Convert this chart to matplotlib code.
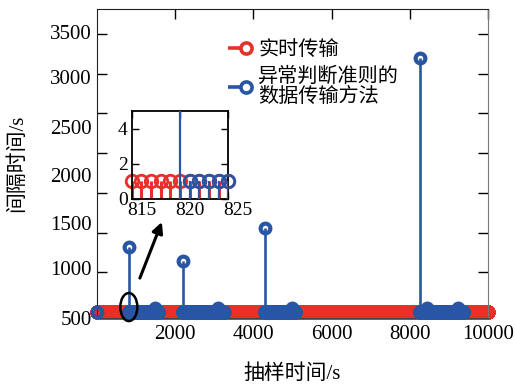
import numpy as np
import matplotlib
matplotlib.use('Agg')
import matplotlib.pyplot as plt
import matplotlib.transforms as mtransforms
from matplotlib.lines import Line2D
from matplotlib.patches import Ellipse
from matplotlib.legend_handler import HandlerBase

plt.rcParams['font.family'] = ['Liberation Serif', 'Noto Sans CJK SC']
plt.rcParams['axes.unicode_minus'] = False

RED = '#E8302A'
BLUE = '#2955A5'

# ---------------- data ----------------
# real-time transmission: one sample every second, interval 1 s
red_start, red_stop = 0, 10000
red_interval = 1
# anomaly-criterion transmission: dense 1 s sampling inside segments,
# long gaps between them (value at segment start = gap length)
blue_first_time = 0
blue_seg_start = [820, 2200, 4300, 8260]
blue_seg_end = [1560, 3240, 5060, 9360]
blue_seg_first_value = [820, 642, 1060, 3200]
bump_times = [1480, 3100, 4990, 8440, 9230]
bump_values = [55, 55, 55, 55, 55]

x_ticks = [2000, 4000, 6000, 8000, 10000]
y_ticks = [0, 500, 1000, 1500, 2000, 2500, 3000, 3500]
y_tick_labels = ['500', '1000', '1500', '2000', '2500', '3000', '3500']
y_label_pos = [-101, 529, 1096, 1688, 2292, 2922, 3489]

inset_x_ticks = [815, 820, 825]
inset_y_ticks = [0, 2, 4]

legend_labels = ['实时传输', '异常判断准则的\n数据传输方法']

# build series
red_t = np.arange(red_start, red_stop + 1)
red_v = np.full(red_t.shape, red_interval, dtype=float)
blue_t = [np.array([blue_first_time])]
blue_v = [np.array([1.0])]
for s, e, f in zip(blue_seg_start, blue_seg_end, blue_seg_first_value):
    tt = np.arange(s, e + 1)
    vv = np.ones(tt.shape)
    vv[0] = f
    blue_t.append(tt)
    blue_v.append(vv)
blue_t = np.concatenate(blue_t)
blue_v = np.concatenate(blue_v)
for bt, bv in zip(bump_times, bump_values):
    blue_v[blue_t == bt] = bv

# ---------------- figure ----------------
fig = plt.figure(figsize=(5.15, 3.87), dpi=100)
ax = fig.add_axes([0.188, 0.178, 0.760, 0.799])


def draw_stem(a, t, v, color, ms, mew, lw, z):
    ml, sl, bl = a.stem(t, v, basefmt=' ', bottom=0)
    ml.set_color(color)
    ml.set_marker('o')
    ml.set_markersize(ms)
    ml.set_markeredgewidth(mew)
    ml.set_markerfacecolor('none')
    ml.set_markeredgecolor(color)
    ml.set_clip_on(False)
    ml.set_zorder(z + 0.5)
    sl.set_color(color)
    sl.set_linewidth(lw)
    sl.set_zorder(z)
    return ml, sl


draw_stem(ax, red_t, red_v, RED, 7, 3, 1.8, 2)
draw_stem(ax, blue_t, blue_v, BLUE, 7, 3, 1.9, 3)

ax.set_xlim(0, 10000)
ax.set_ylim(-76, 3816)
ax.set_xticks(x_ticks)
ax.set_yticks(y_ticks)
ax.tick_params(direction='in', length=7, width=1, top=True, right=True,
               labelsize=15, labelleft=False, pad=5)
for sp in ['left', 'top']:
    ax.spines[sp].set_color('#222222')
ax.spines['bottom'].set_color('#444444')
ax.spines['right'].set_color('#777777')
for lab, yp in zip(y_tick_labels, y_label_pos):
    ax.text(-0.013, yp, lab, transform=ax.get_yaxis_transform(), ha='right',
            va='center', fontsize=15, clip_on=False)

ax.set_xlabel('抽样时间/s', fontsize=15)
ax.set_ylabel('间隔时间/s', fontsize=15)
ax.xaxis.set_label_coords(0.5, -0.15)
ax.yaxis.set_label_coords(-0.178, 0.5)

# ellipse and arrow
ax.add_patch(Ellipse((818, 63), 435, 353, fill=False, ec='black', lw=1.8,
                     zorder=6, clip_on=False))
ax.annotate('', xy=(1662, 1134), xytext=(1100, 428),
            arrowprops=dict(arrowstyle='-|>', color='black', lw=2.2,
                            mutation_scale=16, shrinkA=0, shrinkB=0),
            zorder=6)


# legend
class StemLegend(HandlerBase):
    def create_artists(self, legend, orig_handle, xdescent, ydescent, width,
                       height, fontsize, trans):
        c = orig_handle.get_color()
        y = height / 2 - ydescent
        x0 = -xdescent
        ln = Line2D([x0, x0 + width * 0.7], [y, y], color=c, lw=2.6,
                    solid_capstyle='butt')
        mk = Line2D([x0 + width * 0.78], [y], marker='o', ms=8,
                    mfc='white', mec=c, mew=2.6, ls='none')
        ln.set_transform(trans)
        mk.set_transform(trans)
        return [ln, mk]


handles = [Line2D([], [], color=RED), Line2D([], [], color=BLUE)]
leg = ax.legend(handles, legend_labels, loc='upper left',
                bbox_to_anchor=(0.309, 0.93), frameon=False, borderpad=0,
                handlelength=1.15, handletextpad=0.35, labelspacing=0.4,
                prop={'size': 14.5},
                handler_map={Line2D: StemLegend()})
for t in leg.get_texts():
    t.set_linespacing(1.05)

# inset
axi = fig.add_axes([0.256, 0.486, 0.187, 0.227])
mask_r = (red_t >= 815) & (red_t <= 825)
mask_b = (blue_t >= 815) & (blue_t <= 825)
draw_stem(axi, red_t[mask_r], red_v[mask_r], RED, 9, 2, 2.2, 2)
draw_stem(axi, blue_t[mask_b], blue_v[mask_b], BLUE, 9, 2, 1.6, 3)
axi.set_xlim(815, 825)
axi.set_ylim(0, 5)
axi.set_xticks(inset_x_ticks)
axi.set_yticks(inset_y_ticks)
axi.tick_params(axis='both', direction='in', length=5, width=1, top=True,
                right=True, labelsize=14)
axi.tick_params(axis='x', pad=2)
axi.tick_params(axis='y', pad=3)
shift = mtransforms.ScaledTranslation(0.10, 0, fig.dpi_scale_trans)
for lbl in axi.get_xticklabels():
    lbl.set_transform(lbl.get_transform() + shift)
for sp in axi.spines.values():
    sp.set_color('black')
    sp.set_linewidth(1.3)

fig.savefig('out.png', dpi=100)
